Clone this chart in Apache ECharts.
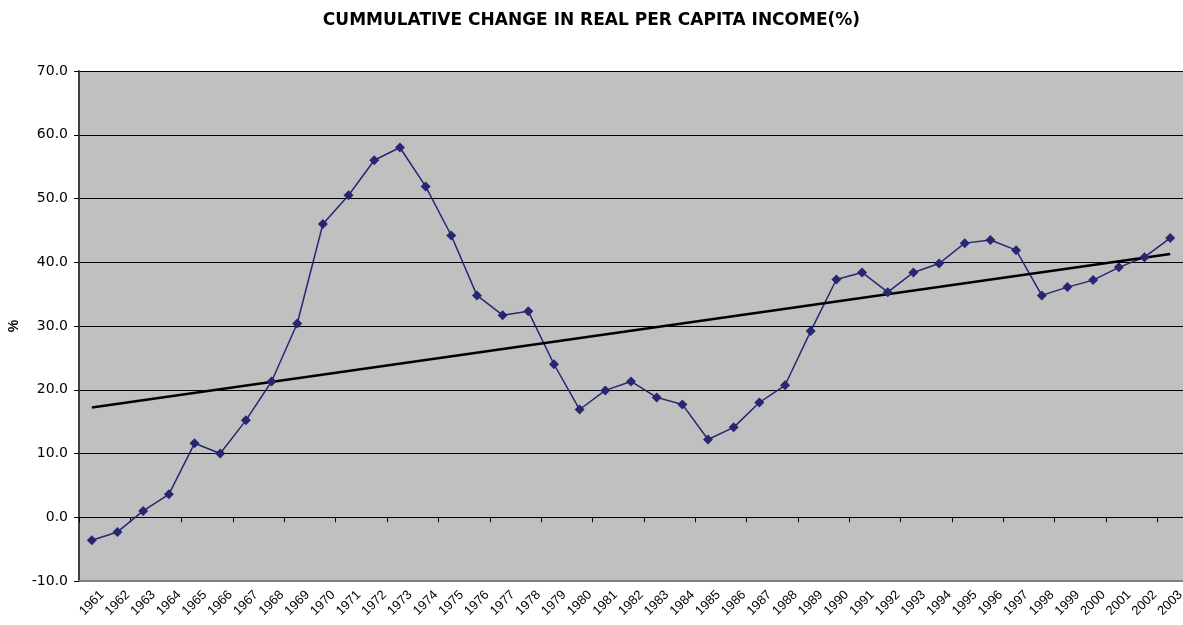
<!DOCTYPE html>
<html><head><meta charset="utf-8">
<script src="https://cdn.jsdelivr.net/npm/echarts@6/dist/echarts.min.js"></script>
<style>html,body{margin:0;padding:0;background:#fff}#c{width:1183px;height:625px}</style>
</head><body><div id="c"></div>
<script>
const years = ['1961','1962','1963','1964','1965','1966','1967','1968','1969','1970','1971','1972','1973','1974','1975','1976','1977','1978','1979','1980','1981','1982','1983','1984','1985','1986','1987','1988','1989','1990','1991','1992','1993','1994','1995','1996','1997','1998','1999','2000','2001','2002','2003'];
const income = [-3.6,-2.3,1.0,3.6,11.6,10.0,15.2,21.3,30.4,46.0,50.5,56.0,58.0,51.9,44.2,34.8,31.7,32.3,24.0,16.9,19.9,21.3,18.8,17.7,12.2,14.1,18.0,20.7,29.2,37.3,38.4,35.3,38.4,39.8,43.0,43.5,41.9,34.8,36.1,37.2,39.2,40.8,43.8];
const trendStart = 17.2;
const trendEnd = 41.3;
const yTicks = [-10, 70, 10];

const trend = years.map((y,i)=> i===0 ? trendStart : (i===years.length-1 ? trendEnd : null));

const chart = echarts.init(document.getElementById('c'), null, {renderer:'canvas'});
const font = 'Liberation Sans, Arial, sans-serif';
const wide = 'DejaVu Sans, sans-serif';
chart.setOption({
  animation:false,
  backgroundColor:'#fff',
  title:{text:'CUMMULATIVE CHANGE IN REAL PER CAPITA INCOME(%)', left:'center', top:7,
    textStyle:{fontFamily:wide, fontSize:17, fontWeight:'bold', color:'#000'}},
  grid:{left:79, right:0, top:71, bottom:44, show:true, backgroundColor:'#C0C0C0', borderWidth:0,
    containLabel:false, outerBoundsMode:'none'},
  xAxis:[{
    type:'category', data:years, boundaryGap:true, position:'bottom',
    axisLine:{onZero:false, lineStyle:{color:'#808080', width:2}},
    axisTick:{show:false},
    axisLabel:{rotate:45, interval:0, fontFamily:font, fontSize:13, color:'#000', margin:22,
      align:'center', verticalAlign:'middle'}
  },{
    type:'category', data:years, boundaryGap:true, position:'bottom',
    axisLine:{onZero:true, onZeroAxisIndex:0, lineStyle:{color:'#000', width:1}},
    axisTick:{show:true, inside:false, length:5, lineStyle:{color:'#000'}},
    axisLabel:{show:false}
  }],
  yAxis:{
    type:'value', min:yTicks[0], max:yTicks[1], interval:yTicks[2],
    name:'%', nameLocation:'middle', nameGap:58, nameRotate:90,
    nameTextStyle:{fontFamily:font, fontSize:14, fontWeight:'bold', color:'#000'},
    axisLine:{show:true, lineStyle:{color:'#404040', width:2}},
    axisTick:{show:true, length:5, lineStyle:{color:'#000'}},
    axisLabel:{formatter:v=>v.toFixed(1), fontFamily:wide, fontSize:14, color:'#000', margin:11},
    splitLine:{show:true, lineStyle:{color:'#000', width:1}}
  },
  series:[{
    type:'line', data:income, xAxisIndex:0,
    symbol:'diamond', symbolSize:10,
    lineStyle:{color:'#262673', width:1.5},
    itemStyle:{color:'#262673'}
  },{
    type:'line', data:trend, xAxisIndex:0, connectNulls:true,
    symbol:'none', lineStyle:{color:'#000', width:2.5}, z:3
  }]
});
</script></body></html>
